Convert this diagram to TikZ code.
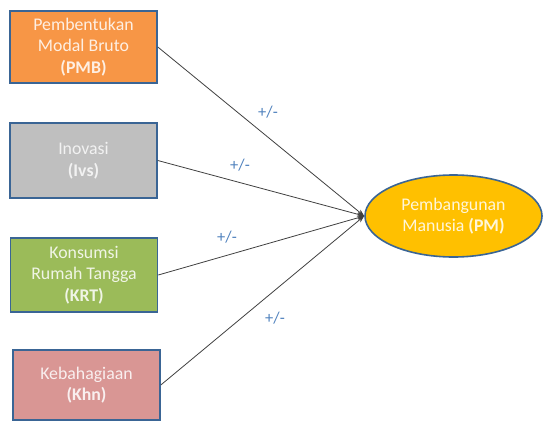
\documentclass[tikz,border=0pt]{standalone}
\usepackage{fontspec}
\setmainfont{Carlito}
\usetikzlibrary{shapes.geometric,arrows.meta}
\definecolor{bordblue}{HTML}{3A6595}
\definecolor{orangefill}{HTML}{F79646}
\definecolor{grayfill}{HTML}{BFBFBF}
\definecolor{greenfill}{HTML}{9BBB59}
\definecolor{pinkfill}{HTML}{D99694}
\definecolor{goldfill}{HTML}{FFC000}
\definecolor{lblblue}{HTML}{4F81BD}
\definecolor{linegray}{HTML}{404040}
\tikzset{
  varbox/.style={draw=bordblue, line width=1.6pt, minimum width=147pt, minimum height=72pt,
    align=center, inner sep=2pt, font=\fontsize{17.8}{21.5}\selectfont},
  pmnode/.style={ellipse, draw=bordblue, line width=1.6pt, fill=goldfill, minimum width=177pt,
    minimum height=82pt, text=white!85!goldfill, align=center, inner sep=0pt, font=\fontsize{17.8}{21.5}\selectfont},
  arr/.style={draw=linegray, line width=0.8pt, -{Stealth[length=7pt,width=5pt]}},
  sign/.style={text=lblblue, font=\fontsize{16.5}{18}\selectfont, inner sep=0pt}
}
\begin{document}
\begin{tikzpicture}[x=1pt,y=-1pt]
\useasboundingbox (0,0) rectangle (543,423);
\node[varbox, fill=orangefill, text=white!85!orangefill, minimum height=72pt] (pmb) at (83.5,47) {Pembentukan\\Modal Bruto\\\textbf{(PMB)}};
\node[varbox, fill=grayfill, text=white!80!grayfill, minimum height=75pt] (ivs) at (83.5,160.5) {Inovasi\\\textbf{(Ivs)}};
\node[varbox, fill=greenfill, text=white!85!greenfill, minimum height=74pt] (krt) at (84,275) {Konsumsi\\Rumah Tangga\\\textbf{(KRT)}};
\node[varbox, fill=pinkfill, text=white!85!pinkfill, minimum height=70pt] (khn) at (86.5,385) {Kebahagiaan\\\textbf{(Khn)}};
\node[pmnode] (pm) at (453.5,216) {Pembangunan\\Manusia \textbf{(PM)}};
\draw[arr] (pmb.east) -- (pm.west);
\draw[arr] (ivs.east) -- (pm.west);
\draw[arr] (krt.east) -- (pm.west);
\draw[arr] (khn.east) -- (pm.west);
\node[sign] (s1) at (268,112) {+/-};
\node[sign] (s2) at (240,165) {+/-};
\node[sign] (s3) at (227,237) {+/-};
\node[sign] (s4) at (275,318) {+/-};
\end{tikzpicture}
\end{document}
